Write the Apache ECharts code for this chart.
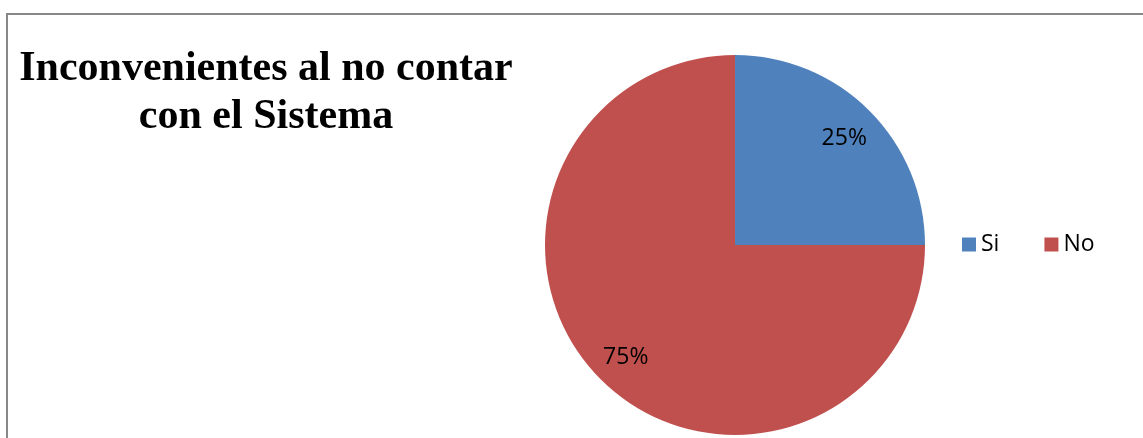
<!DOCTYPE html>
<html>
<head>
<meta charset="utf-8">
<style>
  html, body { margin: 0; padding: 0; background: #fff; }
  #chart { width: 1143px; height: 438px; }
</style>
<script src="https://cdn.jsdelivr.net/npm/echarts@6/dist/echarts.min.js"></script>
</head>
<body>
<div id="chart"></div>
<script>
// Survey answers and their shares (percent)
const categories = ['Si', 'No'];
const shares = [25, 75];
const sliceColors = ['#4F81BD', '#C0504D'];
const titleText = 'Inconvenientes al no contar\ncon el Sistema';

const chart = echarts.init(document.getElementById('chart'));

const pieData = categories.map((name, i) => ({
  name,
  value: shares[i],
  itemStyle: { color: sliceColors[i] }
}));

const center = [735, 245];

chart.setOption({
  animation: false,
  backgroundColor: '#fff',
  graphic: [{
    type: 'rect',
    shape: { x: 7, y: 14, width: 1300, height: 600 },
    style: { fill: 'none', stroke: '#888', lineWidth: 2 },
    silent: true,
    z: -1
  }],
  title: {
    text: titleText,
    left: 261,
    top: 40,
    textAlign: 'center',
    textStyle: {
      fontFamily: 'Liberation Serif',
      fontWeight: 'bold',
      fontSize: 42,
      lineHeight: 48,
      color: '#000'
    }
  },
  legend: {
    data: categories,
    orient: 'horizontal',
    left: 957,
    top: 228,
    icon: 'rect',
    itemWidth: 14,
    itemHeight: 14,
    itemGap: 45,
    textStyle: { fontFamily: 'Open Sans', fontSize: 23, color: '#000' }
  },
  series: [
    {
      // filled slices
      type: 'pie',
      center,
      radius: [0, 190],
      startAngle: 90,
      clockwise: true,
      silent: true,
      label: { show: false },
      labelLine: { show: false },
      data: pieData
    },
    {
      // transparent ring that carries the percentage labels further out
      type: 'pie',
      center,
      radius: [113, 190],
      startAngle: 90,
      clockwise: true,
      silent: true,
      legendHoverLink: false,
      itemStyle: { color: 'rgba(0,0,0,0)', borderWidth: 0 },
      label: {
        show: true,
        position: 'inside',
        formatter: p => p.value + '%',
        fontFamily: 'Open Sans',
        fontSize: 23,
        color: '#000',
        offset: [0, 3]
      },
      labelLine: { show: false },
      data: categories.map((name, i) => ({ name, value: shares[i], itemStyle: { color: 'rgba(0,0,0,0)' } }))
    }
  ]
});
</script>
</body>
</html>
